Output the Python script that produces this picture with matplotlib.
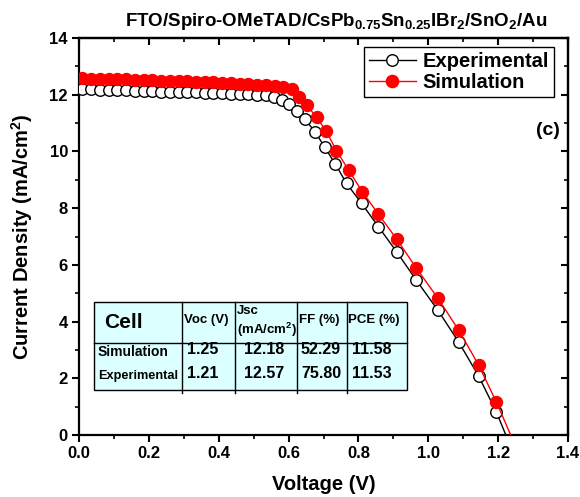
import matplotlib
matplotlib.use('Agg')
import matplotlib.pyplot as plt
from matplotlib.lines import Line2D
from matplotlib.patches import Rectangle

# ── Data ──
v_exp = [0.010, 0.035, 0.060, 0.085, 0.110, 0.135, 0.160, 0.185, 0.210, 0.235,
         0.260, 0.285, 0.310, 0.335, 0.360, 0.385, 0.410, 0.435, 0.460, 0.485,
         0.510, 0.535, 0.558, 0.580, 0.602, 0.623, 0.647, 0.676, 0.704, 0.734,
         0.766, 0.809, 0.857, 0.910, 0.965, 1.027, 1.087, 1.144, 1.195, 1.222]
j_exp = [12.20, 12.19, 12.18, 12.17, 12.16, 12.15, 12.14, 12.13, 12.12, 12.11,
         12.10, 12.10, 12.09, 12.08, 12.07, 12.06, 12.05, 12.04, 12.03, 12.02,
         12.00, 11.98, 11.93, 11.82, 11.67, 11.44, 11.13, 10.69, 10.14, 9.55,
         8.87, 8.17, 7.35, 6.45, 5.47, 4.41, 3.28, 2.08, 0.81, 0.00]

v_sim = [0.010, 0.035, 0.060, 0.085, 0.110, 0.135, 0.160, 0.185, 0.210, 0.235,
         0.260, 0.285, 0.310, 0.335, 0.360, 0.385, 0.410, 0.435, 0.460, 0.485,
         0.510, 0.535, 0.560, 0.585, 0.609, 0.630, 0.652, 0.680, 0.707, 0.737,
         0.772, 0.811, 0.857, 0.910, 0.965, 1.027, 1.087, 1.144, 1.195, 1.236]
j_sim = [12.58, 12.57, 12.56, 12.56, 12.55, 12.54, 12.53, 12.52, 12.51, 12.50,
         12.49, 12.48, 12.47, 12.46, 12.45, 12.44, 12.43, 12.41, 12.39, 12.37,
         12.35, 12.33, 12.31, 12.27, 12.20, 11.93, 11.64, 11.20, 10.73, 10.03,
         9.34, 8.58, 7.79, 6.90, 5.90, 4.83, 3.70, 2.47, 1.16, 0.00]

tbl_cols = ['Voc (V)', 'Jsc\n(mA/cm$^2$)', 'FF (%)', 'PCE (%)']
tbl_rows = ['Simulation', 'Experimental']
tbl_vals = [['1.25', '12.18', '52.29', '11.58'],
            ['1.21', '12.57', '75.80', '11.53']]

# ── Style ──
plt.rcParams.update({
    'font.family': ['Liberation Sans', 'DejaVu Sans'],
    'font.weight': 'bold',
    'mathtext.fontset': 'custom',
    'mathtext.rm': 'Liberation Sans:bold',
    'mathtext.bf': 'Liberation Sans:bold',
    'mathtext.it': 'Liberation Sans:bold',
    'mathtext.default': 'bf',
})

W, H = 580, 497
fig = plt.figure(figsize=(W / 100, H / 100), dpi=100)
L, R, T, B = 79, 568, 38, 435
ax = fig.add_axes([L / W, 1 - B / H, (R - L) / W, (B - T) / H])


def fx(x):
    return x / W


def fy(y):
    return 1 - y / H


# Curves (experimental under simulation)
ax.plot(v_exp, j_exp, color='black', lw=1.0, marker='o', ms=8.3,
        mfc='white', mec='black', mew=1.0, markevery=slice(0, -1), zorder=3)
ax.plot(v_sim, j_sim, color='red', lw=1.0, marker='o', ms=8.8,
        mfc='red', mec='red', mew=0.8, markevery=slice(0, -1), zorder=4)

ax.set_xlim(0, 1.4)
ax.set_ylim(0, 14)
ax.set_xticks([0.0, 0.2, 0.4, 0.6, 0.8, 1.0, 1.2, 1.4])
ax.set_xticks([0.1, 0.3, 0.5, 0.7, 0.9, 1.1, 1.3], minor=True)
ax.set_yticks([0, 2, 4, 6, 8, 10, 12, 14])
ax.set_yticks([1, 3, 5, 7, 9, 11, 13], minor=True)
ax.set_xticklabels(['0.0', '0.2', '0.4', '0.6', '0.8', '1.0', '1.2', '1.4'])
for s in ax.spines.values():
    s.set_linewidth(1.6)
ax.tick_params(which='major', direction='out', length=5, width=1.5,
               labelsize=12, pad=3)
ax.tick_params(which='minor', direction='out', length=3, width=1.2)

# inward ticks on top and right
top = ax.secondary_xaxis('top')
top.set_xticks(ax.get_xticks())
top.set_xticks([0.1, 0.3, 0.5, 0.7, 0.9, 1.1, 1.3], minor=True)
top.tick_params(which='major', direction='in', length=5, width=1.5, labeltop=False)
top.tick_params(which='minor', direction='in', length=3, width=1.2)
rgt = ax.secondary_yaxis('right')
rgt.set_yticks([0, 2, 4, 6, 8, 10, 12, 14])
rgt.set_yticks([1, 3, 5, 7, 9, 11, 13], minor=True)
rgt.tick_params(which='major', direction='in', length=5, width=1.5, labelright=False)
rgt.tick_params(which='minor', direction='in', length=3, width=1.2)
for sa in (top, rgt):
    for s in sa.spines.values():
        s.set_linewidth(1.6)

ax.set_xlabel('Voltage (V)', fontsize=14.5, fontweight='bold', labelpad=10)
ax.set_ylabel('Current Density (mA/cm$^2$)', fontsize=14.5, fontweight='bold',
              labelpad=10)
fig.text(fx(336), fy(22), 'FTO/Spiro-OMeTAD/CsPb$_{0.75}$Sn$_{0.25}$IBr$_2$/SnO$_2$/Au',
         ha='center', va='center', fontsize=13.5, fontweight='bold')
ax.text(0.984, 0.766, '(c)', transform=ax.transAxes, ha='right', va='center',
        fontsize=14, fontweight='bold')

# Legend
handles = [
    Line2D([0], [0], color='black', lw=1.0, marker='o', ms=8.3, mfc='white',
           mec='black', mew=1.0, label='Experimental'),
    Line2D([0], [0], color='red', lw=1.0, marker='o', ms=8.8, mfc='red',
           mec='red', label='Simulation'),
]
leg = fig.legend(handles=handles, loc='upper right',
                 bbox_to_anchor=(fx(554), fy(47)),
                 prop={'weight': 'bold', 'size': 14.5}, frameon=True,
                 fancybox=False, edgecolor='black', framealpha=1,
                 handlelength=2.3, handletextpad=0.35, borderpad=0.25,
                 labelspacing=0.1, borderaxespad=0)
leg.get_frame().set_linewidth(1.0)

# ── Parameter table ──
tl, tr, tt, th, tb = 94, 407, 302, 343, 390
col_x = [182, 235, 297, 347]
fig.patches.append(Rectangle((fx(tl), fy(tb)), fx(tr) - fx(tl), fy(tt) - fy(tb),
                             transform=fig.transFigure, facecolor='#DCFFFF',
                             edgecolor='black', lw=1.0, zorder=5))
fig.add_artist(Line2D([fx(tl), fx(tr)], [fy(th), fy(th)], color='black', lw=1.0, zorder=6))
for cx in col_x:
    fig.add_artist(Line2D([fx(cx), fx(cx)], [fy(tt), fy(tb + 3)], color='black',
                          lw=1.0, zorder=6))

fig.text(fx(104), fy(322), 'Cell', ha='left', va='center', fontsize=15,
         fontweight='bold', zorder=7)
hdr_x = [184, 237, 299, 348]
for i, lab in enumerate(tbl_cols):
    if '\n' in lab:
        a, b = lab.split('\n')
        fig.text(fx(hdr_x[i]), fy(311), a, ha='left', va='center', fontsize=9.5,
                 fontweight='bold', zorder=7)
        fig.text(fx(hdr_x[i]), fy(330), b, ha='left', va='center', fontsize=9.5,
                 fontweight='bold', zorder=7)
    else:
        fig.text(fx(hdr_x[i]), fy(320), lab, ha='left', va='center', fontsize=9.5,
                 fontweight='bold', zorder=7)

row_y = [352, 376]
row_fs = [10, 9.2]
val_x = [203, 264, 321, 372]
for r, name in enumerate(tbl_rows):
    fig.text(fx(98), fy(row_y[r]), name, ha='left', va='center',
             fontsize=row_fs[r], fontweight='bold', zorder=7)
    for c, val in enumerate(tbl_vals[r]):
        fig.text(fx(val_x[c]), fy(row_y[r] - 2), val, ha='center', va='center',
                 fontsize=11.5, fontweight='bold', zorder=7)

plt.savefig('out.png', dpi=100)
plt.close()
